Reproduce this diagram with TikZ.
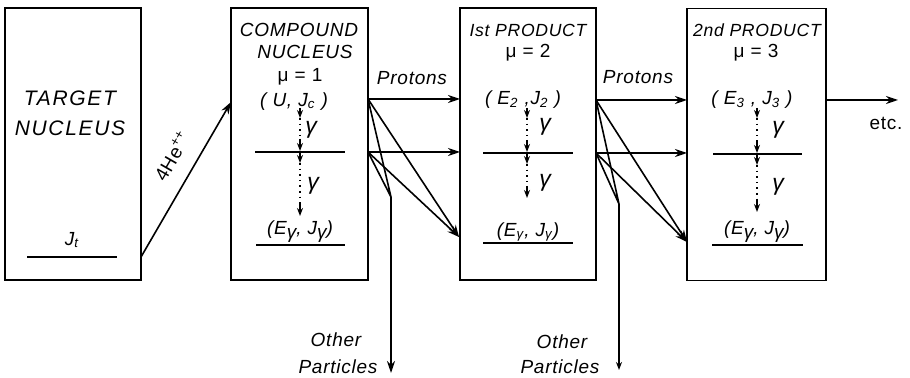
\documentclass[tikz,border=0pt]{standalone}
\usepackage{fontspec}
\setmainfont[LetterSpace=4]{Liberation Sans}
\usetikzlibrary{arrows.meta}
\newcommand{\gsub}{\raisebox{-0.4ex}{γ}}
\tikzset{
  box/.style={draw, line width=0.9pt, minimum width=68pt, minimum height=136pt, inner sep=0pt},
  lbl/.style={font=\fontsize{9.5}{11}\selectfont\itshape, inner sep=1pt},
  head/.style={font=\fontsize{8.8}{10}\selectfont\itshape, inner sep=1pt},
  big/.style={font=\fontsize{10.5}{12}\selectfont\itshape\addfontfeatures{LetterSpace=8}, inner sep=1pt},
  lvl/.style={line width=0.9pt},
  arr/.style={line width=0.8pt, -{Stealth[length=6pt,width=4pt]}},
  garr/.style={line width=0.8pt, -{Stealth[length=4pt,width=3pt]}},
}
\begin{document}
\begin{tikzpicture}[x=0.5pt,y=-0.5pt]
\useasboundingbox (0,0) rectangle (910,378);

\node[box] (target) at (73,144) {};
\node[box, minimum width=68.5pt] (compound) at (299.5,144) {};
\node[box] (prod1) at (528,144) {};
\node[box, minimum width=69.5pt] (prod2) at (756.5,144.5) {};

\node[big] (tname) at (70,98) {TARGET};
\node[big] (tnuc) at (70,128) {NUCLEUS};
\node[lbl] (jt) at (72,240) {J\textsubscript{t}};
\draw[lvl] (27,257) -- (117,257);

\node[lbl] (cname) at (299,30) {COMPOUND};
\node[lbl] (cnuc) at (305,52) {NUCLEUS};
\node[lbl] (cmu) at (300,77) {\upshape μ = 1};
\node[lbl] (cstate) at (294,102) {( U, J\textsubscript{c} )};
\node[lbl] (cend) at (300,232) {(E\gsub, J\gsub)};
\draw[lvl] (255,152) -- (345,152);
\draw[lvl] (256,245) -- (345,245);

\node[head] (aname) at (528,30) {Ist PRODUCT};
\node[lbl] (amu) at (528,53) {\upshape μ = 2};
\node[lbl] (astate) at (523,100) {( E\textsubscript{2} ,J\textsubscript{2} )};
\node[lbl] (aend) at (528,232) {(E\textsubscript{γ}, J\textsubscript{γ})};
\draw[lvl] (483,153) -- (573,153);
\draw[lvl] (483,243) -- (573,243);

\node[head] (bname) at (757,30) {2nd PRODUCT};
\node[lbl] (bmu) at (756,53) {\upshape μ = 3};
\node[lbl] (bstate) at (752,100) {( E\textsubscript{3} , J\textsubscript{3} )};
\node[lbl] (bend) at (757,232) {(E\gsub, J\gsub)};
\draw[lvl] (713,154) -- (802,154);
\draw[lvl] (712,245) -- (803,245);

\foreach \x/\ya/\yb in {300/108/151, 300/153/216, 527/108/152, 527/154/198, 757/108/153, 757/155/212} {
  \draw[garr] (\x,\ya) -- (\x,{\ya+10});
  \draw[line width=0.8pt, dotted] (\x,{\ya+10}) -- (\x,{\yb-10});
  \draw[garr] (\x,{\yb-12}) -- (\x,\yb);
}
\foreach \x/\y in {311/130, 313/186, 545/127, 545/183, 778/130, 778/187}
  \node[lbl, font=\fontsize{11.5}{13}\selectfont\itshape] at (\x,\y) {γ};

\coordinate (tout) at (141,257);
\coordinate (cin) at (231,102);
\coordinate (cu) at (368,99);
\coordinate (cl) at (368,152);
\coordinate (au) at (460,99);
\coordinate (al) at (460,152);
\coordinate (ab) at (459,237);
\coordinate (o1) at (391,197);
\coordinate (o1e) at (391,373);
\coordinate (aou) at (596,100);
\coordinate (aol) at (596,153);
\coordinate (bu) at (687,100);
\coordinate (bl) at (687,153);
\coordinate (bb) at (687,242);
\coordinate (o2) at (619,204);
\coordinate (o2e) at (619,370);
\coordinate (bout) at (826,100);
\coordinate (etce) at (898,100);

\draw[arr] (tout) -- (cin);
\node[lbl, rotate=60, font=\fontsize{9.5}{11}\selectfont] (he) at (172,156) {4He\textsuperscript{++}};

\node[lbl] (prot1) at (412,78) {Protons};
\draw[arr] (cu) -- (au);
\draw[arr] (cl) -- (al);
\draw[line width=0.8pt] (cu) -- (o1) (cl) -- (o1);
\draw[arr] (cu) -- (ab);
\draw[arr] (cl) -- (ab);
\draw[arr] (o1) -- (o1e);
\node[lbl] (oth1) at (336,340) {Other};
\node[lbl] (par1) at (338,367) {Particles};

\node[lbl] (prot2) at (638,77) {Protons};
\draw[arr] (aou) -- (bu);
\draw[arr] (aol) -- (bl);
\draw[line width=0.8pt] (aou) -- (o2) (aol) -- (o2);
\draw[arr] (aou) -- (bb);
\draw[arr] (aol) -- (bb);
\draw[garr] (o2) -- (o2e);
\node[lbl] (oth2) at (562,342) {Other};
\node[lbl] (par2) at (560,367) {Particles};

\draw[arr] (bout) -- (etce);
\node[lbl, font=\fontsize{9.5}{11}\selectfont] (etc) at (886,123) {etc.};
\end{tikzpicture}
\end{document}
